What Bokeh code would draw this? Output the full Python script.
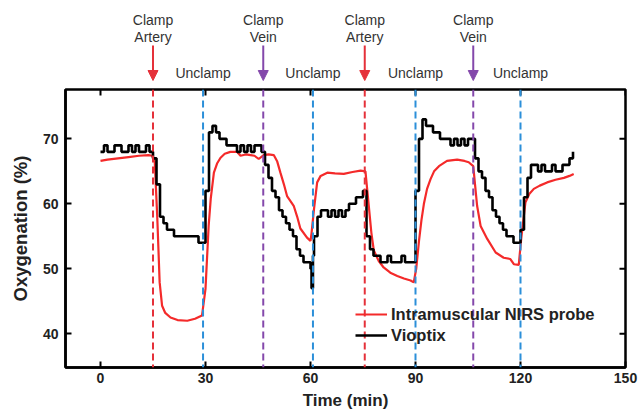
import numpy as np
from bokeh.plotting import figure
from bokeh.layouts import column
from bokeh.models import (Range1d, Span, Legend, LegendItem, FixedTicker,
                          Arrow, NormalHead, ColumnDataSource)
from bokeh.core.properties import value
from bokeh.embed import file_html
from bokeh.resources import INLINE

# ---------------- data ----------------
nirs_t = [0, 2, 5, 8, 11, 13.7, 14.8, 15.5, 16.2, 16.9, 17.6, 18.5, 20, 22, 24.8, 27, 29, 30, 30.9,
          31.5, 32.4, 33.3, 34.3, 35.5, 37.1, 39, 40, 41.5, 42.9, 44, 45.2, 46.6, 48, 49.5, 50.5,
          51.4, 52.4, 53.3, 55.2, 56.2, 57.1, 59, 60, 60.3, 61, 61.9, 62.9, 64.8, 67, 69.5, 72,
          74.3, 75.7, 76.7, 77.4, 78.1, 79.5, 80.9, 82.8, 84.8, 86.7, 88.6, 89.5, 90.2, 91, 91.7,
          92.4, 93.3, 94.3, 95.3, 96.7, 99, 101.9, 104, 105.2, 106.5, 107.6, 108.6, 110.5, 112.9,
          115.2, 117.1, 118.1, 119.5, 120.2, 121.4, 122.5, 123.8, 125.5, 127.6, 130, 132.4, 134,
          135.2]
nirs_v = [66.6, 66.8, 67.0, 67.2, 67.4, 67.5, 67.4, 66.5, 58.2, 47.9, 44.3, 43.2, 42.5, 42.1, 42.0,
          42.3, 42.8, 46.9, 56.6, 60.8, 64.8, 66.2, 67.1, 67.7, 68.0, 68.0, 67.4, 67.6, 67.5, 67.4,
          66.9, 67.5, 67.6, 67.5, 66.5, 64.8, 63.0, 61.2, 59.7, 58.0, 56.2, 54.8, 54.3, 55.5, 59.2,
          63.3, 64.3, 64.8, 64.7, 64.6, 64.9, 65.1, 65.0, 59.4, 55.5, 52.8, 51.2, 50.2, 49.4, 48.9,
          48.5, 48.2, 47.9, 50.0, 54.3, 57.5, 60.0, 62.3, 63.8, 65.0, 65.8, 66.6, 66.8, 66.6, 66.4,
          65.8, 59.7, 56.6, 54.6, 52.5, 51.7, 51.5, 50.7, 50.6, 54.6, 60.2, 61.5, 62.3, 62.8, 63.3,
          63.7, 64.0, 64.3, 64.6]

vio_t = list(range(0, 61)) + [60.3, 60.7] + list(range(61, 136))
vio_v = ([68, 69, 68, 68, 69, 69, 68, 68, 69, 68, 69, 68, 68, 69, 68]
         + [67, 63, 58, 57, 56, 56, 55, 55, 55, 55, 55, 55, 55, 54, 54]
         + [62, 71, 72, 71, 70, 70, 69, 69, 69, 68, 69, 68, 69, 68, 69, 69, 68]
         + [66, 64, 62, 61, 59, 58, 57, 56, 55, 53, 52, 51, 51, 50]
         + [47, 52]
         + [55, 58, 59, 59, 58, 59, 58, 59, 58, 59, 60, 60, 61, 61, 62]
         + [55, 53, 52, 52, 51, 51, 52, 51, 51, 51, 52, 51, 51, 51]
         + [62, 70, 73, 72, 72, 71, 71, 70, 70, 70, 69, 70, 69, 70, 69, 70, 70]
         + [67, 65, 64, 62, 61, 59, 58, 57, 56, 55, 55, 54, 54]
         + [56, 61, 64, 66, 66, 65, 66, 65, 65, 66, 65, 65, 66, 66, 67, 68])

clamp_times = [15, 46.5, 75.5, 106.5]
clamp_names = ["Artery", "Vein", "Artery", "Vein"]
unclamp_times = [29.3, 60.7, 90, 120]

x_ticks = [0, 30, 60, 90, 120, 150]
y_ticks = [40, 50, 60, 70]
X_MIN, X_MAX = -10, 150
Y_MIN, Y_MAX = 34.8, 77.6

series_labels = ["Intramuscular NIRS probe", "Vioptix"]

# ---------------- styles ----------------
RED = "#f42a2a"
BLACK = "#000000"
ART_RED = "#e5313a"
VEIN_PURPLE = "#8448ab"
UNC_BLUE = "#2b8fd9"
FONT = "Liberation Sans"
TXT = "#222222"

xr = Range1d(X_MIN, X_MAX)

# ---------------- main plot ----------------
p = figure(width=641, height=329, x_range=xr, y_range=Range1d(Y_MIN, Y_MAX),
           output_backend="svg", toolbar_location=None,
           min_border_left=65, min_border_right=16, min_border_top=3, min_border_bottom=48)
p.grid.visible = False
p.outline_line_color = "black"
p.outline_line_width = 2.5

for ax in [p.xaxis[0], p.yaxis[0]]:
    ax.axis_line_width = 2.5
    ax.major_tick_line_width = 2
    ax.major_tick_in = 6
    ax.major_tick_out = 0
    ax.minor_tick_line_color = None
    ax.major_label_text_font = FONT
    ax.major_label_text_font_style = "bold"
    ax.major_label_text_font_size = "14px"
    ax.major_label_text_color = TXT
    ax.axis_label_text_font = FONT
    ax.axis_label_text_font_style = "bold"
    ax.axis_label_text_color = TXT

p.xaxis[0].ticker = FixedTicker(ticks=x_ticks)
p.yaxis[0].ticker = FixedTicker(ticks=y_ticks)
p.xaxis[0].axis_label = "Time (min)"
p.yaxis[0].axis_label = "Oxygenation (%)"
p.xaxis[0].axis_label_text_font_size = "17px"
p.yaxis[0].axis_label_text_font_size = "18.5px"
p.xaxis[0].major_label_standoff = 5
p.xaxis[0].axis_label_standoff = 5
p.yaxis[0].major_label_standoff = 7
p.yaxis[0].axis_label_standoff = 9

# mirrored inward ticks on top and right edges (half of each dash is clipped by the frame)
p.scatter(x=x_ticks, y=[Y_MAX] * len(x_ticks), marker="dash", angle=np.pi / 2, size=12,
          line_color="black", line_width=2)
p.scatter(x=[X_MAX] * len(y_ticks), y=y_ticks, marker="dash", size=12,
          line_color="black", line_width=2)

for t, name in zip(clamp_times, clamp_names):
    col = ART_RED if name == "Artery" else VEIN_PURPLE
    p.add_layout(Span(location=t, dimension="height", line_color=col,
                      line_width=2, line_dash="7 4"))
for t in unclamp_times:
    p.add_layout(Span(location=t, dimension="height", line_color=UNC_BLUE,
                      line_width=2, line_dash="7 4"))

r_red = p.line(nirs_t, nirs_v, line_color=RED, line_width=2.2)
r_blk = p.step(vio_t, vio_v, mode="after", line_color=BLACK, line_width=2.6)

tick_red = p.scatter(x=[], y=[], marker="dash", angle=np.pi / 2, size=9,
                     line_color=RED, line_width=2)
tick_blk = p.scatter(x=[], y=[], marker="dash", angle=np.pi / 2, size=9,
                     line_color=BLACK, line_width=2)

legend = Legend(items=[LegendItem(label=series_labels[0], renderers=[r_red, tick_red]),
                       LegendItem(label=series_labels[1], renderers=[r_blk, tick_blk])],
                location=(290, 22), padding=0, margin=0, spacing=1,
                glyph_width=32, glyph_height=20, label_height=20, label_standoff=4,
                label_text_font=FONT, label_text_font_style="bold",
                label_text_font_size="16.5px", label_text_color=TXT,
                background_fill_alpha=0, border_line_alpha=0)
p.add_layout(legend)

# ---------------- annotation strip ----------------
top = figure(width=641, height=86, x_range=xr, y_range=Range1d(0, 86),
             output_backend="svg", toolbar_location=None,
             x_axis_location=None, y_axis_location=None,
             min_border_left=65, min_border_right=16, min_border_top=0, min_border_bottom=0)
top.grid.visible = False
top.outline_line_color = None

for t, name in zip(clamp_times, clamp_names):
    col = ART_RED if name == "Artery" else VEIN_PURPLE
    top.add_layout(Arrow(x_start=t, y_start=41, x_end=t, y_end=6, line_color=col, line_width=2,
                         end=NormalHead(size=10, fill_color=col, line_color=col)))

src_c = ColumnDataSource(dict(x=clamp_times, t1=["Clamp"] * len(clamp_times), t2=clamp_names))
top.text(x="x", y=67, text="t1", source=src_c, text_align="center", text_baseline="middle",
         text_font=value(FONT), text_font_size="14px", text_color="#333333")
top.text(x="x", y=50, text="t2", source=src_c, text_align="center", text_baseline="middle",
         text_font=value(FONT), text_font_size="14px", text_color="#333333")
src_u = ColumnDataSource(dict(x=unclamp_times, t=["Unclamp"] * len(unclamp_times)))
top.text(x="x", y=14, text="t", source=src_u, text_align="center", text_baseline="middle",
         text_font=value(FONT), text_font_size="14px", text_color="#333333")

layout = column(top, p, spacing=0)
open("out.html", "w").write(file_html(layout, INLINE))
